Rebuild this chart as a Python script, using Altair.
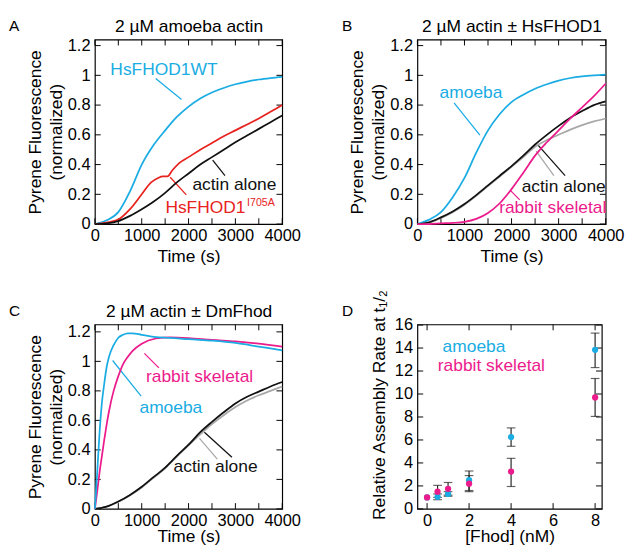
import altair as alt
import pandas as pd

FONT = "Liberation Sans"
BLUE = "#1AACE3"
RED = "#E8221E"
PINK = "#EC1B8C"
GRAY = "#A8A8A8"
BLACK = "#111111"

# ---------------- data ----------------
T = [0, 250, 500, 750, 1000, 1250, 1500, 1750, 2000, 2250, 2500, 2750, 3000, 3250, 3500, 3750, 4000]

# Panel A
A_wt = [0, 0.025, 0.08, 0.22, 0.40, 0.53, 0.63, 0.72, 0.79, 0.845, 0.885, 0.915, 0.94, 0.958, 0.972, 0.982, 0.99]
A_red_t = [0, 250, 500, 750, 1000, 1200, 1350, 1450, 1550, 1650, 1800, 2000, 2250, 2500, 2750, 3000, 3250, 3500, 3750, 4000]
A_red = [0, 0.01, 0.03, 0.10, 0.20, 0.28, 0.31, 0.32, 0.32, 0.36, 0.41, 0.45, 0.50, 0.545, 0.59, 0.63, 0.67, 0.71, 0.755, 0.80]
A_alone = [0, 0.005, 0.02, 0.055, 0.10, 0.15, 0.21, 0.28, 0.34, 0.40, 0.45, 0.50, 0.55, 0.595, 0.64, 0.685, 0.73]

# Panel B
B_amoeba = [0, 0.03, 0.08, 0.18, 0.31, 0.48, 0.63, 0.74, 0.82, 0.87, 0.91, 0.94, 0.965, 0.982, 0.993, 1.0, 1.005]
B_alone = [0, 0.012, 0.045, 0.085, 0.135, 0.195, 0.26, 0.325, 0.39, 0.46, 0.535, 0.60, 0.66, 0.715, 0.76, 0.80, 0.825]
B_alone2 = [0, 0.01, 0.04, 0.08, 0.13, 0.19, 0.255, 0.32, 0.385, 0.45, 0.52, 0.565, 0.60, 0.635, 0.665, 0.69, 0.71]
B_rabbit = [0, 0.0, 0.005, 0.008, 0.015, 0.035, 0.075, 0.14, 0.235, 0.345, 0.46, 0.55, 0.63, 0.71, 0.785, 0.86, 0.945]

# Panel C
C_fast_t = [0, 50, 100, 150, 200, 250, 300, 400, 500, 600, 700, 800, 1000, 1300, 1600, 2000, 2500, 3000, 3500, 4000]
C_amoeba = [0, 0.25, 0.52, 0.72, 0.85, 0.96, 1.03, 1.11, 1.16, 1.18, 1.19, 1.19, 1.18, 1.165, 1.16, 1.15, 1.14, 1.125, 1.10, 1.075]
C_rabbit = [0, 0.12, 0.25, 0.36, 0.47, 0.57, 0.66, 0.80, 0.90, 0.98, 1.03, 1.07, 1.12, 1.155, 1.163, 1.158, 1.145, 1.135, 1.12, 1.10]
C_alone = [0, 0.015, 0.05, 0.095, 0.15, 0.215, 0.28, 0.36, 0.435, 0.52, 0.59, 0.655, 0.715, 0.76, 0.795, 0.83, 0.86]
C_alone2 = [0, 0.015, 0.048, 0.092, 0.145, 0.21, 0.275, 0.355, 0.43, 0.505, 0.575, 0.635, 0.69, 0.735, 0.77, 0.80, 0.83]

# Panel D
D_conc = [0, 0.5, 1, 2, 4, 8]
D_amoeba = [1.0, 1.05, 1.3, 2.5, 6.25, 13.85]
D_amoeba_lo = [1.0, 0.8, 1.1, 1.6, 5.45, 12.3]
D_amoeba_hi = [1.0, 1.3, 1.5, 3.3, 7.05, 15.3]
D_rabbit = [1.0, 1.5, 1.75, 2.2, 3.25, 9.7]
D_rabbit_lo = [1.0, 1.0, 1.2, 1.5, 1.95, 8.05]
D_rabbit_hi = [1.0, 2.05, 2.3, 2.9, 4.4, 11.35]

# axis tick values and labels
TIME_TICKS = [0, 500, 1000, 1500, 2000, 2500, 3000, 3500, 4000]
FLUOR_TICKS = [0, 0.2, 0.4, 0.6, 0.8, 1, 1.2]
D_X_TICKS = [0, 2, 4, 6, 8]
D_Y_TICKS = [0, 2, 4, 6, 8, 10, 12, 14, 16]

# annotations: (text, x, y, colour, font size)
A_texts = [("HsFHOD1WT", 330, 1.035, BLUE, 18), ("actin alone", 2082, 0.26, BLACK, 18),
           ("HsFHOD1", 1505, 0.11, RED, 18), ("I705A", 3250, 0.142, RED, 11)]
A_leaders = [(1299, 0.978, 1849, 0.837, BLUE), (2515, 0.43, 2777, 0.326, BLACK),
             (1608, 0.315, 1952, 0.196, RED)]
B_texts = [("amoeba", 472, 0.88, BLUE, 18), ("actin alone", 2215, 0.25, BLACK, 18),
           ("rabbit skeletal", 1737, 0.11, PINK, 18)]
B_leaders = [(779, 0.815, 1327, 0.598, BLUE), (2558, 0.533, 3138, 0.326, BLACK),
             (2523, 0.49, 2899, 0.326, GRAY), (1969, 0.228, 2174, 0.163, PINK)]
C_texts = [("rabbit skeletal", 1091, 0.89, PINK, 18), ("amoeba", 952, 0.685, BLUE, 18),
           ("actin alone", 1679, 0.28, BLACK, 18)]
C_leaders = [(1056, 1.054, 1367, 0.956, PINK), (378, 1.006, 987, 0.765, BLUE),
             (2338, 0.52, 2926, 0.35, BLACK), (2234, 0.478, 2614, 0.337, GRAY)]
D_texts = [("amoeba", 0.74, 14.1, BLUE, 18), ("rabbit skeletal", 0.51, 12.45, PINK, 18)]

YTITLE = ["Pyrene Fluorescence", "(normalized)"]
TICK_LEN = 6


def axis_common(**kw):
    base = dict(grid=False, domain=False, ticks=False, tickSize=0,
                labelFont=FONT, titleFont=FONT, labelFontSize=17, titleFontSize=18,
                labelColor="black", titleColor="black", titleFontWeight="normal",
                labelOverlap=False, labelFlush=False, labelBound=False)
    base.update(kw)
    return alt.Axis(**base)


def tick_layers(xs, ys, xvals, yvals, width, height):
    xdf = pd.DataFrame({"v": xvals})
    ydf = pd.DataFrame({"v": yvals})
    out = []
    for y0, y1 in [(height, height - TICK_LEN), (0, TICK_LEN)]:
        out.append(alt.Chart(xdf).mark_rule(color="black", strokeWidth=1).encode(
            x=alt.X("v:Q", scale=xs, axis=None), y=alt.value(y0), y2=alt.value(y1)))
    for x0, x1 in [(0, TICK_LEN), (width, width - TICK_LEN)]:
        out.append(alt.Chart(ydf).mark_rule(color="black", strokeWidth=1).encode(
            y=alt.Y("v:Q", scale=ys, axis=None), x=alt.value(x0), x2=alt.value(x1)))
    return out


def panel(series, texts, leaders, header, letter, letter_x, xdom, ydom, xvals, yvals,
          xfmt, yfmt, xtitle, ytitle, width, height, xlabel_expr=None, ytitle_pad=2,
          xtitle_y=34, ytitle_y=None):
    xs = alt.Scale(domain=xdom, nice=False, zero=False)
    ys = alt.Scale(domain=ydom, nice=False, zero=False)
    bx = dict(orient="bottom", values=xvals, format=xfmt, title=xtitle, labelPadding=4,
              titleY=xtitle_y, titleBaseline="middle")
    if xlabel_expr:
        bx["labelExpr"] = xlabel_expr
    ly = dict(orient="left", values=yvals, format=yfmt, title=ytitle, labelPadding=5,
              titlePadding=ytitle_pad, titleLineHeight=22)
    if ytitle_y is not None:
        ly["titleY"] = ytitle_y
    base_df = series[0][0]
    layers = [alt.Chart(base_df).mark_point(opacity=0).encode(
        x=alt.X("x:Q", scale=xs, axis=axis_common(**bx)),
        y=alt.Y("y:Q", scale=ys, axis=axis_common(**ly)))]
    if header:
        layers.append(alt.Chart(base_df).mark_point(opacity=0).encode(
            x=alt.X("x:Q", scale=xs, axis=axis_common(orient="top", values=xvals, labels=False,
                                                      title=header, titleY=-13,
                                                      titleBaseline="middle")),
            y=alt.Y("y:Q", scale=ys, axis=None)))
    layers += tick_layers(xs, ys, xvals, yvals, width, height)
    if leaders:
        ldf = pd.DataFrame(leaders, columns=["x", "y", "x2", "y2", "c"])
        layers.append(alt.Chart(ldf).mark_rule(strokeWidth=1.3).encode(
            x=alt.X("x:Q", scale=xs, axis=None), y=alt.Y("y:Q", scale=ys, axis=None),
            x2="x2:Q", y2="y2:Q", color=alt.Color("c:N", scale=None)))
    for s in series:
        layers.append(s[1](s[0], xs, ys))
    tdf = pd.DataFrame(texts, columns=["label", "x", "y", "c", "s"])
    layers.append(alt.Chart(tdf).mark_text(align="left", baseline="middle", font=FONT).encode(
        x=alt.X("x:Q", scale=xs, axis=None), y=alt.Y("y:Q", scale=ys, axis=None),
        text="label:N", color=alt.Color("c:N", scale=None), size=alt.Size("s:Q", scale=None)))
    layers.append(alt.Chart(pd.DataFrame({"k": [letter]})).mark_text(
        align="left", baseline="middle", font=FONT, fontSize=16, color="black").encode(
        text="k:N", x=alt.value(letter_x), y=alt.value(-14)))
    return alt.layer(*layers).resolve_axis(x="independent", y="independent").properties(
        width=width, height=height)


def line(t, v, color):
    df = pd.DataFrame({"x": t, "y": v})

    def make(d, xs, ys):
        return alt.Chart(d).mark_line(color=color, strokeWidth=1.8, interpolate="monotone").encode(
            x=alt.X("x:Q", scale=xs, axis=None), y=alt.Y("y:Q", scale=ys, axis=None))
    return (df, make)


def points(xv, yv, color):
    df = pd.DataFrame({"x": xv, "y": yv})

    def make(d, xs, ys):
        return alt.Chart(d).mark_circle(color=color, size=42, opacity=1).encode(
            x=alt.X("x:Q", scale=xs, axis=None), y=alt.Y("y:Q", scale=ys, axis=None))
    return (df, make)


def errbars(xv, lo, hi):
    rows = [(x, l, h) for x, l, h in zip(xv, lo, hi) if h > l]
    df = pd.DataFrame(rows, columns=["x", "y", "y2"])

    def make(d, xs, ys):
        r = alt.Chart(d).mark_rule(color="#222222", strokeWidth=1.2).encode(
            x=alt.X("x:Q", scale=xs, axis=None), y=alt.Y("y:Q", scale=ys, axis=None), y2="y2:Q")
        caps = alt.Chart(d).transform_fold(["y", "y2"], as_=["k", "v"]).mark_tick(
            orient="horizontal", size=9, thickness=1.2, color="#222222").encode(
            x=alt.X("x:Q", scale=xs, axis=None), y=alt.Y("v:Q", scale=ys, axis=None))
        return alt.layer(r, caps)
    return (df, make)


XEXPR = "datum.value % 1000 == 0 ? datum.label : ''"

pA = panel([line(T, A_wt, BLUE), line(A_red_t, A_red, RED), line(T, A_alone, BLACK)],
           A_texts, A_leaders, "2 µM amoeba actin", "A", -89,
           [0, 4000], [0, 1.24], TIME_TICKS, FLUOR_TICKS, "d", "~g", "Time (s)", YTITLE, 194, 191, XEXPR)
pB = panel([line(T, B_amoeba, BLUE), line(T, B_alone2, GRAY), line(T, B_alone, BLACK), line(T, B_rabbit, PINK)],
           B_texts, B_leaders, "2 µM actin ± HsFHOD1", "B", -78,
           [0, 4000], [0, 1.24], TIME_TICKS, FLUOR_TICKS, "d", "~g", "Time (s)", YTITLE, 195, 191, XEXPR)
pC = panel([line(T, C_alone2, GRAY), line(T, C_alone, BLACK), line(C_fast_t, C_rabbit, PINK), line(C_fast_t, C_amoeba, BLUE)],
           C_texts, C_leaders, "2 µM actin ± DmFhod", "C", -89,
           [0, 4000], [0, 1.25], TIME_TICKS, FLUOR_TICKS, "d", "~g", "Time (s)", YTITLE, 194, 191, XEXPR,
           xtitle_y=29)
all_lo = D_amoeba_lo + D_rabbit_lo
all_hi = D_amoeba_hi + D_rabbit_hi
pD = panel([errbars(D_conc + D_conc, all_lo, all_hi), points(D_conc, D_amoeba, BLUE), points(D_conc, D_rabbit, PINK)],
           D_texts, [], None, "D", -78,
           [-0.46, 8.32], [0, 16.05], D_X_TICKS, D_Y_TICKS, "d", "d", "[Fhod] (nM)",
           "Relative Assembly Rate at t₁/₂", 191, 191, None, 6, xtitle_y=29, ytitle_y=83)

chart = alt.vconcat(
    alt.hconcat(pA, pB, spacing=41),
    alt.hconcat(pC, pD, spacing=41),
    spacing=22,
).properties(padding=0).configure_view(stroke="black", strokeWidth=1.2)

chart.save("out.html", embed_options={"renderer": "svg", "actions": False})
